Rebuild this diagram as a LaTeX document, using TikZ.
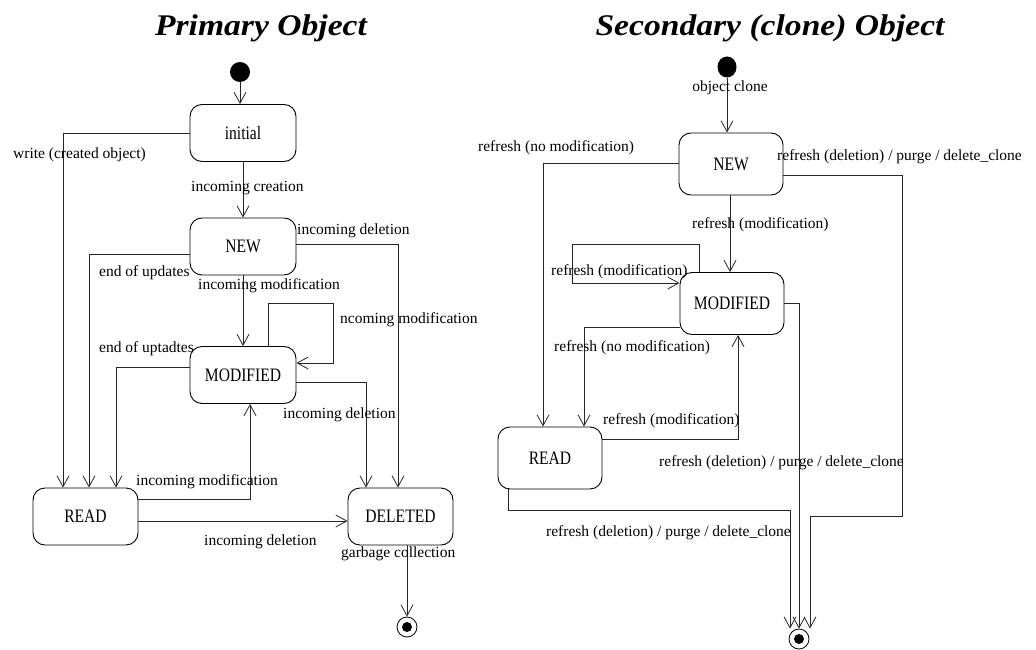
\documentclass[tikz,border=0pt]{standalone}
\usepackage{fontspec}
\setmainfont{Liberation Serif}
\newfontfamily\statefamily[FakeStretch=0.82]{Liberation Serif}
\newfontfamily\titlefamily[FakeStretch=1.12]{Liberation Serif}
\usetikzlibrary{arrows.meta,shapes.geometric}
\begin{document}
\begin{tikzpicture}[x=1pt,y=-1pt,
  state/.style={draw=black, line width=0.9pt, rounded corners=12pt, inner sep=0pt, font=\statefamily\fontsize{19}{19}\selectfont},
  lstate/.style={state, minimum width=106pt, minimum height=57pt},
  rstate/.style={state, minimum width=104pt, minimum height=62pt},
  edge/.style={draw=black!85, line width=0.8pt, -{Straight Barb[length=11pt,width=12pt]}},
  lbl/.style={anchor=west, inner sep=0pt, font=\fontsize{15.5}{16}\selectfont},
  ttl/.style={anchor=base, inner sep=0pt, font=\titlefamily\bfseries\itshape\fontsize{30}{30}\selectfont},
  startst/.style={circle, fill=black, inner sep=0pt, minimum size=20pt},
  finalst/.style={circle, draw=black, line width=0.8pt, inner sep=0pt, minimum size=20pt,
    path picture={\fill[black] (path picture bounding box.center) circle (5pt);}},
]
\useasboundingbox (0,0) rectangle (1036,650);

% titles
\node[ttl] (t1) at (261,36) {Primary Object};
\node[ttl] (t2) at (770,36) {Secondary (clone) Object};

% ---------- primary ----------
\node[startst] (dotL) at (240,72) {};
\node[lstate] (initial) at (243,133) {initial};
\node[lstate] (NEW) at (243,246.5) {NEW};
\node[lstate] (MOD) at (243,375) {MODIFIED};
\node[lstate, minimum width=105pt] (READ) at (85.5,516.5) {READ};
\node[lstate, minimum width=105pt] (DEL) at (400.5,516.5) {DELETED};
\node[finalst] (finalL) at (407,627) {};

\draw[edge] (dotL.south) -- (dotL.south |- initial.north);
\draw[edge] (initial.west) -| ([xshift=-22.5pt]READ.north);
\draw[edge] (initial.south) -- (NEW.north);
\draw[edge] ([yshift=-7.5pt]NEW.west) -| ([xshift=3.5pt]READ.north);
\draw[edge] (NEW.south) -- (MOD.north);
\draw[edge] ([yshift=2.5pt]NEW.east) -| ([xshift=-2.5pt]DEL.north);
\draw[edge] ([xshift=25pt]MOD.north) |- (333,303) |- ([yshift=12pt]MOD.east);
\draw[edge] ([yshift=8pt]MOD.west) -| ([xshift=30.5pt]READ.north);
\draw[edge] ([yshift=-7pt]MOD.east) -| ([xshift=-34.5pt]DEL.north);
\draw[edge] ([yshift=17.5pt]READ.east) -| ([xshift=7pt]MOD.south);
\draw[edge] ([yshift=-4.5pt]READ.east) -- ([yshift=-4.5pt]READ.east -| DEL.west);
\draw[edge] ([xshift=6.5pt]DEL.south) -- (finalL.north);

\node[lbl] (l1) at (13,155) {write (created object)};
\node[lbl] (l2) at (191,188) {incoming creation};
\node[lbl] (l3) at (99,273) {end of updates};
\node[lbl] (l4) at (198,286) {incoming modification};
\node[lbl] (l5) at (297,231) {incoming deletion};
\node[lbl] (l6) at (340,320) {ncoming modification};
\node[lbl] (l7) at (99,349) {end of uptadtes};
\node[lbl] (l8) at (283,415) {incoming deletion};
\node[lbl] (l9) at (136,482) {incoming modification};
\node[lbl] (l10) at (204,542) {incoming deletion};
\node[lbl] (l11) at (341,554) {garbage collection};

% ---------- secondary ----------
\node[ellipse, fill=black, inner sep=0pt, minimum width=19pt, minimum height=21pt] (dotR) at (727,67) {};
\node[rstate] (NEWr) at (731,164) {NEW};
\node[rstate] (MODr) at (732,303.5) {MODIFIED};
\node[rstate] (READr) at (550,458) {READ};
\node[finalst] (finalR) at (799,639) {};

\draw[edge] (dotR.south) -- (dotR.south |- NEWr.north);
\draw[edge] ([yshift=1pt]NEWr.west) -| ([xshift=-7pt]READr.north);
\draw[edge] ([xshift=-1pt]NEWr.south) -- ([xshift=-1pt]NEWr.south |- MODr.north);
\draw[edge] ([xshift=-33pt]MODr.north) |- (572,244) |- ([yshift=20.5pt]MODr.west);
\draw[edge] ([yshift=-23.5pt]MODr.west) -| ([xshift=34pt]READr.north);
\draw[edge] ([yshift=19pt]READr.east) -| ([xshift=6pt]MODr.south);
\draw[edge] (MODr.east) -| (finalR.north);
\draw[edge] ([xshift=-42pt]READr.south) |- (790,510) -- ([xshift=-9pt]finalR.north);
\draw[edge] ([yshift=-11pt]NEWr.east) -| (902,516) -- (810,516) -- ([xshift=11pt]finalR.north);

\node[lbl, anchor=center] (r0) at (730,88) {object clone};
\node[lbl] (r1) at (478,148) {refresh (no modification)};
\node[lbl] (r2) at (692,225) {refresh (modification)};
\node[lbl] (r3) at (551,272) {refresh (modification)};
\node[lbl] (r4) at (554,348) {refresh (no modification)};
\node[lbl] (r5) at (603,421) {refresh (modification)};
\node[lbl] (r6) at (659,463) {refresh (deletion) / purge / delete\_clone};
\node[lbl] (r7) at (546,533) {refresh (deletion) / purge / delete\_clone};
\node[lbl] (r8) at (777,157) {refresh (deletion) / purge / delete\_clone};
\end{tikzpicture}
\end{document}
